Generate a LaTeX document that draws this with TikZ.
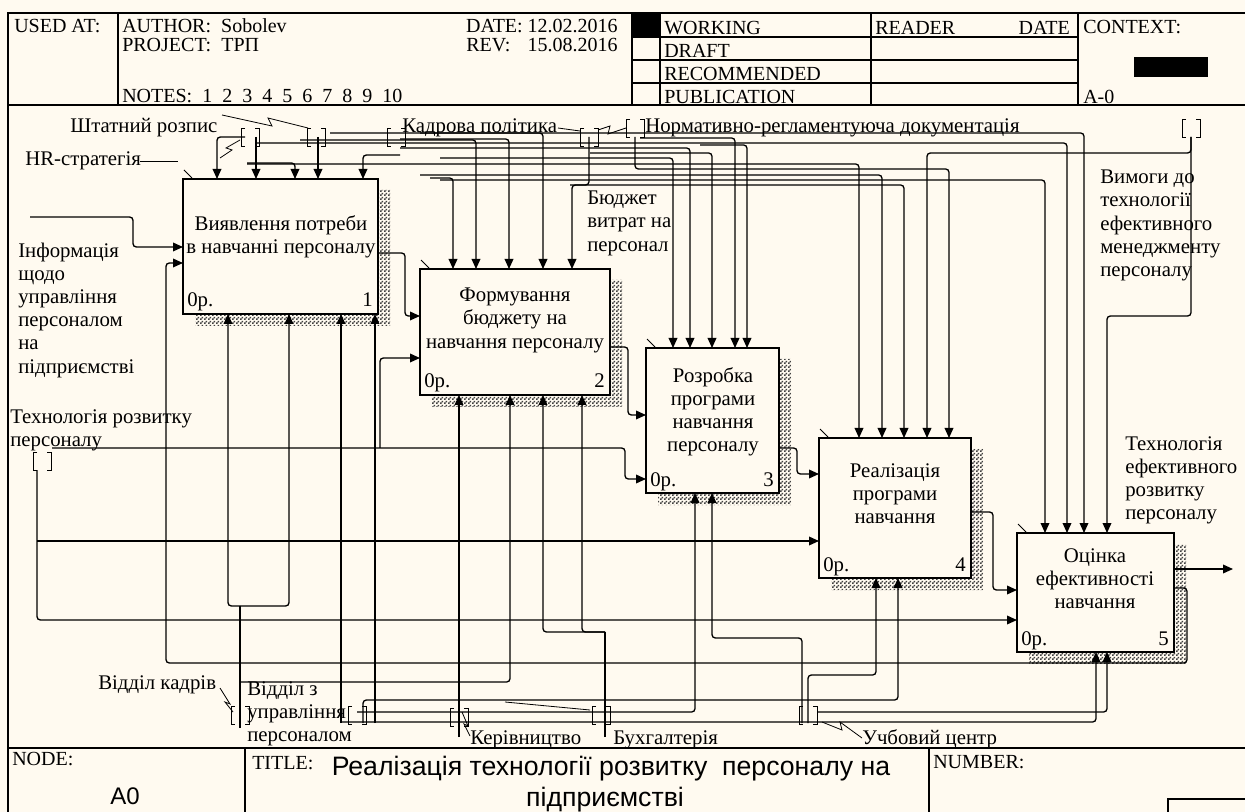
\documentclass[tikz,border=0pt]{standalone}
\usepackage{fontspec}
\setmainfont{Liberation Serif}
\newfontfamily\arialf{Liberation Sans}
\usetikzlibrary{arrows.meta,patterns}
\definecolor{bg}{RGB}{255,250,240}
\newcommand\lblfont{\fontsize{15.6}{17.3}\selectfont}
\newcommand\hdfont{\fontsize{15}{17}\selectfont}
\pgfdeclarepatternformonly{checker}{\pgfpointorigin}{\pgfqpoint{3pt}{3pt}}{\pgfqpoint{3pt}{3pt}}{%
  \pgfpathrectangle{\pgfpointorigin}{\pgfqpoint{1.5pt}{1.5pt}}%
  \pgfpathrectangle{\pgfqpoint{1.5pt}{1.5pt}}{\pgfqpoint{1.5pt}{1.5pt}}%
  \pgfusepath{fill}}
\begin{document}
\begin{tikzpicture}[x=0.75pt,y=-0.75pt,
  frame/.style={line width=1.35pt},
  ln/.style={line width=1pt, rounded corners=2.5pt},
  ar/.style={ln, -{Triangle[length=7.5pt,width=6.5pt]}},
  thinln/.style={line width=0.6pt},
  box/.style={draw, line width=1.1pt, fill=bg, inner sep=0pt, outer sep=0pt, anchor=north west},
  shd/.style={pattern=checker, pattern color=black!75},
  txt/.style={font=\lblfont, inner sep=0pt, align=left},
  btxt/.style={font=\lblfont, inner sep=0pt, align=center, anchor=north},
  hd/.style={font=\hdfont, inner sep=0pt, anchor=base west},
  lb/.style={font=\lblfont, inner sep=0pt, anchor=base west},
  tunnel/.pic={\draw[line width=0.7pt] (-5,-9) -- (-9,-9) -- (-9,9) -- (-5,9) (5,-9) -- (9,-9) -- (9,9) -- (5,9);}
]
\useasboundingbox (0,0) rectangle (1245,812);
\fill[bg] (0,0) rectangle (1245,812);

% ---------- frame ----------
\draw[frame] (1245,13) -- (8,13) -- (8,812);
\draw[frame] (8,105) -- (1245,105);
\draw[frame] (8,748) -- (1245,748);
\draw[frame] (118,13) -- (118,105);
\draw[frame] (632,13) -- (632,105);
\draw[frame] (660,13) -- (660,105);
\draw[frame] (871,13) -- (871,105);
\draw[frame] (1078,13) -- (1078,105);
\draw[frame] (632,37) -- (1078,37) (632,60) -- (1078,60) (632,83) -- (1078,83);
\fill[black] (632,13) rectangle (660,37);
\fill[black] (1134,57) rectangle (1208,77);
\draw[frame] (245,748) -- (245,812);
\draw[frame] (929,748) -- (929,812);
\draw[frame] (1168,799) rectangle (1260,830);

% ---------- header text ----------
\node[hd] (usedat) at (14,33) {USED AT:};
\node[hd] (author) at (122,33) {AUTHOR:\ \ Sobolev};
\node[hd] (project) at (122,52) {PROJECT:\ \ ТРП};
\node[hd] (notes) at (122,103) {NOTES:\ \ 1\ \ 2\ \ 3\ \ 4\ \ 5\ \ 6\ \ 7\ \ 8\ \ 9\ \ 10};
\node[hd, anchor=base east] (date) at (618,33) {DATE: 12.02.2016};
\node[hd] (rev) at (466,52) {REV:};
\node[hd, anchor=base east] (revd) at (618,52) {15.08.2016};
\node[hd] (working) at (664,35) {WORKING};
\node[hd] (draft) at (664,58) {DRAFT};
\node[hd] (recom) at (664,81) {RECOMMENDED};
\node[hd] (publ) at (664,104) {PUBLICATION};
\node[hd] (reader) at (875,35) {READER};
\node[hd, anchor=base east] (rdate) at (1070,35) {DATE};
\node[hd] (context) at (1083,34) {CONTEXT:};
\node[hd] (am0) at (1083,104) {A-0};

% ---------- footer text ----------
\node[hd] (nodel) at (12,765) {NODE:};
\node[font=\arialf\fontsize{18}{20}\selectfont, inner sep=0pt, anchor=base] (a0) at (125,804) {A0};
\node[hd] (titlel) at (252,769) {TITLE:};
\node[font=\arialf\fontsize{20}{24}\selectfont, inner sep=0pt, anchor=base] (t1) at (611,775) {Реалізація технології розвитку\ \ персоналу на};
\node[font=\arialf\fontsize{20}{24}\selectfont, inner sep=0pt, anchor=base] (t2) at (605,806) {підприємстві};
\node[hd] (numl) at (933,768) {NUMBER:};

% ---------- shadows ----------
\fill[shd] (378,190) rectangle (390,326) (195,314) rectangle (390,326);
\fill[shd] (610,280) rectangle (622,407) (432,395) rectangle (622,407);
\fill[shd] (779,359) rectangle (791,505) (658,493) rectangle (791,505);
\fill[shd] (971,449) rectangle (983,590) (831,578) rectangle (983,590);
\fill[shd] (1174,544) rectangle (1186,664) (1029,652) rectangle (1186,664);

% ---------- boxes ----------
\node[box, minimum width=146.25pt, minimum height=101.25pt] (b1) at (183,179) {};
\node[box, minimum width=142.5pt, minimum height=94.5pt] (b2) at (420,269) {};
\node[box, minimum width=99.75pt, minimum height=108.75pt] (b3) at (646,348) {};
\node[box, minimum width=114pt, minimum height=105pt] (b4) at (819,438) {};
\node[box, minimum width=117.75pt, minimum height=89.25pt] (b5) at (1017,533) {};
\foreach \b in {b1,b2,b3,b4,b5}{
  \draw[thinln] ([shift={(1,-9)}]\b.north west) -- ([shift={(9,-1)}]\b.north west);
}

\node[btxt] (t-b1) at (281,215) {Виявлення потреби\\в навчанні персоналу};
\node[btxt] (t-b2) at (515,288) {Формування\\бюджету на\\навчання персоналу};
\node[btxt] (t-b3) at (713,367) {Розробка\\програми\\навчання\\персоналу};
\node[btxt] (t-b4) at (895,463) {Реалізація\\програми\\навчання};
\node[btxt] (t-b5) at (1095,548) {Оцінка\\ефективності\\навчання};

\foreach \b/\n in {b1/1,b2/2,b3/3,b4/4,b5/5}{
  \node[lb] at ([shift={(4,-7)}]\b.south west) {0р.};
  \node[lb, anchor=base east] at ([shift={(-5,-7)}]\b.south east) {\n};
}

% ---------- arrow labels ----------
\node[lb] (l-sht) at (70,133) {Штатний розпис};
\node[lb] (l-hr) at (25,166) {HR-стратегія};
\node[lb] (l-kad) at (402,133) {Кадрова політика};
\node[lb] (l-norm) at (645,133) {Нормативно-регламентуюча документація};
\node[txt, anchor=north west] (l-bud) at (587,191) {Бюджет\\витрат на\\персонал};
\node[txt, anchor=north west] (l-vym) at (1100,170) {Вимоги до\\технології\\ефективного\\менеджменту\\персоналу};
\node[txt, anchor=north west] (l-inf) at (18,243) {Інформація\\щодо\\управління\\персоналом\\на\\підприємстві};
\node[txt, anchor=north west] (l-tech) at (10,409) {Технологія розвитку\\персоналу};
\node[txt, anchor=north west] (l-out) at (1125,436) {Технологія\\ефективного\\розвитку\\персоналу};
\node[lb] (l-vk) at (98,689) {Відділ кадрів};
\node[txt, anchor=north west] (l-vu) at (247,681) {Відділ з\\управління\\персоналом};
\node[lb] (l-ker) at (470,744) {Керівництво};
\node[lb] (l-bux) at (613,744) {Бухгалтерія};
\node[lb] (l-uch) at (862,744) {Учбовий центр};

% ---------- tunnels and leaders (top) ----------
\pic at (250,137) {tunnel};
\pic at (316,137) {tunnel};
\pic at (396,137) {tunnel};
\pic at (589,137) {tunnel};
\pic at (635,128) {tunnel};
\pic at (1191,128) {tunnel};
\draw[thinln] (222,115) -- (272,126) -- (268,118) -- (308,128);
\draw[thinln] (140,161) -- (178,161);
\draw[thinln] (220,158) -- (232,150) -- (226,148) -- (240,140);
\draw[thinln] (558,128) -- (580,131);
\draw[thinln] (598,130) -- (610,126) -- (608,134) -- (626,128);

% ---------- control arrows ----------
% box 1
\draw[ar] (245,137) -| (217,179);
\draw[ar] (256,137) -- (256,179);
\draw[ar] (247,163) -| (295,179);
\draw[ar] (318,137) -- (318,179);
\draw[ar] (400,155) -| (363,179);
% box 2
\draw[ar] (430,178) -| (453,269);
\draw[ar] (300,140) -| (476,269);
\draw[ar] (400,139) -| (509,269);
\draw[ar] (420,133) -| (543,269);
\draw[ar] (589,137) |- (580,185) -| (572,269);
% box 3
\draw[ar] (440,158) -| (673,348);
\draw[ar] (400,148) -| (690,348);
\draw[ar] (590,153) -| (712,348);
\draw[ar] (640,138) -| (735,348);
\draw[ar] (700,145) -| (747,348);
% box 4
\draw[ar] (247,164) -| (859,438);
\draw[ar] (420,175) -| (882,438);
\draw[ar] (570,185) -| (904,438);
\draw[ar] (1191,137) |- (1150,153) -| (927,438);
\draw[ar] (635,137) |- (660,169) -| (949,438);
% box 5
\draw[ar] (440,180) -| (1045,533);
\draw[ar] (255,143) -| (1067,533);
\draw[ar] (330,133) -| (1084,533);
\draw[ar] (1191,137) |- (1150,316) -| (1107,533);

% ---------- inputs / outputs ----------
\draw[ar] (30,217) -| (133,247) -- (183,247);
\draw[ar] (1174,588) -| (1187,663) -| (166,263) -- (183,263);
\draw[ar] (378,253) -| (405,316) -- (420,316);
\pic at (42,461) {tunnel};
\draw[ar] (52,448) -| (625,479) -- (646,479);
\draw[ar] (380,448) |- (420,358);
\draw[ar] (610,347) -| (628,415) -- (646,415);
\draw[ar] (779,448) -| (797,474) -- (819,474);
\draw[ar] (971,512) -| (993,590) -- (1017,590);
\draw[ar] (37,470) |- (1017,620);
\draw[ar] (37,541) -- (819,541);
\draw[ar] (1174,569) -- (1233,569);

% ---------- mechanisms ----------
\pic at (240,715) {tunnel};
\pic at (357,715) {tunnel};
\pic at (459,717) {tunnel};
\pic at (601,715) {tunnel};
\pic at (808,715) {tunnel};
\draw[thinln] (220,688) -- (230,704) -- (225,702) -- (233,712);
\draw[thinln] (470,736) -- (464,724) -- (468,726) -- (462,712);
\draw[thinln] (505,702) -- (590,710);
\draw[thinln] (822,722) -- (842,730) -- (840,722) -- (862,738);
\draw[ln] (240,728) -- (240,606);
\draw[ar] (240,606) -| (228,314);
\draw[ar] (240,606) -| (289,314);
\draw[ar] (341,723) -- (341,314);
\draw[ar] (375,723) -- (375,314);
\draw[ar] (459,737) -- (459,395);
\draw[ar] (240,682) -| (510,395);
\draw[ln] (605,737) -- (605,632);
\draw[ar] (605,632) -| (543,395);
\draw[ar] (605,632) -| (582,395);
\draw[ar] (357,712) -| (695,493);
\draw[ar] (802,723) |- (760,638) -| (712,493);
\draw[ar] (808,723) |- (840,675) -| (876,578);
\draw[ar] (363,723) |- (700,700) -| (898,578);
\draw[ar] (818,712) -| (1107,652);
\draw[ar] (341,722) -| (1096,652);
\end{tikzpicture}
\end{document}
